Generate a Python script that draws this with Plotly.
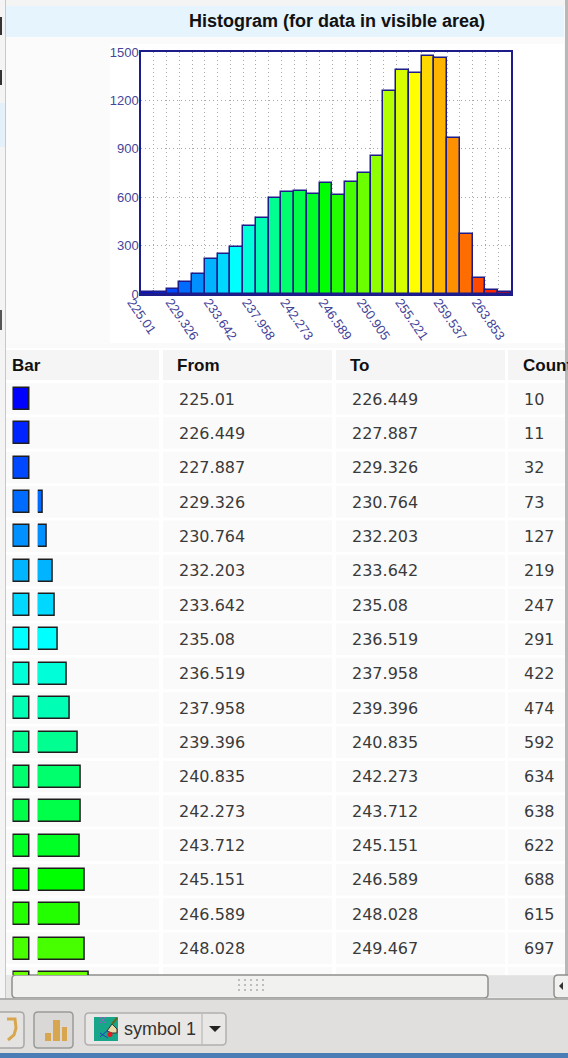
import plotly.graph_objects as go

W, H = 568, 1058

# ---------- data ----------
bin_start = 225.01
bin_width = 1.4385
hist_counts = [10, 11, 32, 73, 127, 219, 247, 291, 422, 474, 592, 634, 638, 622, 688,
               615, 697, 750, 855, 1260, 1390, 1370, 1478, 1460, 965, 370, 100, 25, 15]
bin_colors = ["#0000ff", "#0024ff", "#0048ff", "#006cff", "#0090ff", "#00b4ff", "#00d8ff", "#00ffff",
              "#00ffd8", "#00ffb4", "#00ff90", "#00ff6c", "#00ff48", "#00ff24", "#00ff00", "#24ff00",
              "#48ff00", "#6cff00", "#90ff00", "#b4ff00", "#d8ff00", "#ffff00", "#ffd800", "#ffb400",
              "#ff9000", "#ff6c00", "#ff4800", "#ff2400", "#ff0000"]
bin_centers = [225.73, 227.17, 228.61, 230.05, 231.48, 232.92, 234.36, 235.80, 237.24, 238.68,
               240.12, 241.55, 242.99, 244.43, 245.87, 247.31, 248.75, 250.19, 251.62, 253.06,
               254.50, 255.94, 257.38, 258.82, 260.26, 261.69, 263.13, 264.57, 266.01]
tick_values = [225.01, 229.326, 233.642, 237.958, 242.273, 246.589, 250.905, 255.221, 259.537, 263.853]
tick_labels = ["225.01", "229.326", "233.642", "237.958", "242.273", "246.589", "250.905", "255.221",
               "259.537", "263.853"]
y_ticks = [0, 300, 600, 900, 1200, 1500]

headers = ["Bar", "From", "To", "Count"]
row_from = ["225.01", "226.449", "227.887", "229.326", "230.764", "232.203", "233.642", "235.08", "236.519",
            "237.958", "239.396", "240.835", "242.273", "243.712", "245.151", "246.589", "248.028"]
row_to = ["226.449", "227.887", "229.326", "230.764", "232.203", "233.642", "235.08", "236.519", "237.958",
          "239.396", "240.835", "242.273", "243.712", "245.151", "246.589", "248.028", "249.467"]
row_count = ["10", "11", "32", "73", "127", "219", "247", "291", "422", "474", "592", "634", "638", "622",
             "688", "615", "697"]
# rows 0-17 of the table; the last one is almost hidden by the scrollbar
row_bars = [None, None, None, 73, 127, 219, 247, 291, 422, 474, 592, 634, 638, 622, 688, 615, 697, 750]
row_swatch = [1] * 18

ROW0, PITCH = 399.0, 34.35


def X(p):
    return p / W


def Y(p):
    return 1 - p / H


shapes = []


def rect(x0, y0, x1, y1, fill, line=None, lw=1, r=False):
    if r:
        rad = 4
        path = (f"M{X(x0+rad)},{Y(y0)} L{X(x1-rad)},{Y(y0)} Q{X(x1)},{Y(y0)} {X(x1)},{Y(y0+rad)} "
                f"L{X(x1)},{Y(y1-rad)} Q{X(x1)},{Y(y1)} {X(x1-rad)},{Y(y1)} L{X(x0+rad)},{Y(y1)} "
                f"Q{X(x0)},{Y(y1)} {X(x0)},{Y(y1-rad)} L{X(x0)},{Y(y0+rad)} Q{X(x0)},{Y(y0)} {X(x0+rad)},{Y(y0)} Z")
        shapes.append(dict(type="path", path=path, xref="paper", yref="paper", fillcolor=fill,
                           line=dict(color=line or fill, width=lw), layer="below"))
    else:
        shapes.append(dict(type="rect", xref="paper", yref="paper", x0=X(x0), x1=X(x1), y0=Y(y0), y1=Y(y1),
                           fillcolor=fill, line=dict(color=line or fill, width=lw if line else 0), layer="below"))


def poly(points, fill=None, line=None, lw=1):
    path = "M" + " L".join(f"{X(a)},{Y(b)}" for a, b in points)
    if fill:
        path += " Z"
    shapes.append(dict(type="path", xref="paper", yref="paper", layer="below", path=path,
                       fillcolor=fill or "rgba(0,0,0,0)",
                       line=dict(color=line or "rgba(0,0,0,0)", width=lw if line else 0)))


# ---------- window furniture ----------
rect(0, 0, 568, 1058, "#fafafa")
rect(0, 0, 5, 1000, "#f4f4f4")
rect(0, 17, 2, 35, "#333333")
rect(0, 70, 2, 85, "#333333")
rect(0, 103, 5, 147, "#e4f1fb")
rect(0, 310, 2, 330, "#555555")
rect(5, 0, 6, 1000, "#c8c8c8")
rect(6, 0, 565, 6, "#f4f4f4")
rect(565, 0, 568, 1000, "#b8b8b8")
rect(6, 6, 564, 37, "#e6f4fd")
rect(6, 37, 564, 344, "#fbfbfb")
rect(110, 44, 564, 343, "#ffffff")

# table cells
rect(6, 348, 565, 975, "#ffffff")
cols = [(6, 159), (163, 332), (336, 505), (508, 565)]
for c0, c1 in cols:
    rect(c0, 350, c1, 380, "#f5f5f5")
    for i in range(18):
        top = ROW0 - 16 + PITCH * i
        rect(c0, top, c1, min(top + 31.5, 975), "#fafafa")

# scrollbar and toolbar
rect(6, 975, 565, 998, "#e8e8e6")
rect(488, 976, 553, 997, "#e2e2e2")
rect(12, 975, 488, 998, "#f1f1ef", "#8f8f8d", 1.5, True)
for dx in range(5):
    for dy in range(3):
        rect(238 + 6 * dx, 979 + 5 * dy, 240 + 6 * dx, 981 + 5 * dy, "#bdbdbd")
rect(554, 975, 575, 998, "#f1f1ef", "#8f8f8d", 1.5, True)
poly([(563, 982), (563, 990), (559, 986)], fill="#333333")
rect(0, 998, 568, 1053, "#e0dfdd")
rect(0, 998, 568, 1000, "#b0b0ae")
rect(-8, 1012, 24, 1048, "#e4e3e1", "#a8a8a6", 1.5, True)
poly([(7, 1019), (15, 1019), (16, 1028), (14, 1035), (8, 1040)], line="#d8a64e", lw=3)
rect(34, 1012, 73, 1048, "#d9d8d6", "#9a9a98", 1.5, True)
for bx0, bx1, by in [(45, 51, 1033), (53, 60, 1020), (62, 67, 1027)]:
    rect(bx0, by, bx1, 1041, "#d8a64e")
rect(85, 1013, 226, 1045, "#e8e7e5", "#b0b0ae", 1.5, True)
rect(201.5, 1014, 202.5, 1044, "#b0b0ae")
rect(94, 1017, 118, 1041, "#17a689")
poly([(100, 1033), (108, 1038)], line="#2040c0", lw=1)
poly([(108, 1030), (100, 1037)], line="#2040c0", lw=1)
poly([(100, 1017), (105, 1023)], line="#b050d0", lw=1)
poly([(105, 1017), (100, 1023)], line="#b050d0", lw=1)
poly([(107, 1031), (112, 1024), (117, 1029), (117, 1033), (112, 1033)], fill="#e8d9a8", line="#333333", lw=1)
poly([(112, 1024), (117, 1018)], line="#5a6a20", lw=2)
shapes.append(dict(type="circle", xref="paper", yref="paper", layer="below", fillcolor="#e81820",
                   line=dict(width=0), x0=X(107.5), x1=X(112.5), y0=Y(1037), y1=Y(1032)))
poly([(209, 1026), (221, 1026), (215, 1032)], fill="#222222")
rect(0, 1053, 568, 1058, "#4a7db5")

fig = go.Figure()

# ---------- histogram ----------
FRAME = "#1c1c8a"
INK = "#45459a"
fig.add_trace(go.Bar(x=bin_centers, y=hist_counts, width=bin_width, marker=dict(color=bin_colors,
                     line=dict(color=FRAME, width=1.5)), xaxis="x", yaxis="y", showlegend=False))

# ---------- table bars ----------
row_index = list(range(18))
fig.add_trace(go.Bar(y=row_index, x=row_bars, orientation="h", width=0.64,
                     marker=dict(color=bin_colors[:18], line=dict(color="#1e1e1e", width=1.5)),
                     xaxis="x2", yaxis="y2", showlegend=False))
fig.add_trace(go.Bar(y=row_index, x=row_swatch, orientation="h", width=0.64,
                     marker=dict(color=bin_colors[:18], line=dict(color="#1e1e1e", width=1.5)),
                     xaxis="x3", yaxis="y2", showlegend=False))

# ---------- text ----------
ann = [dict(text="<b>Histogram (for data in visible area)</b>", x=X(337), y=Y(21), xref="paper", yref="paper",
            yanchor="middle", showarrow=False, font=dict(family="Liberation Sans", size=18, color="#111111"))]
for txt, px in zip(headers, [10, 175, 348, 521]):
    ann.append(dict(text=f"<b>{txt}</b>", x=X(px), y=Y(365), xref="paper", yref="paper", xanchor="left",
                    yanchor="middle", showarrow=False,
                    font=dict(family="Liberation Sans", size=17, color="#111111")))
for values, px in [(row_from, 177), (row_to, 350), (row_count, 522)]:
    for i, txt in enumerate(values):
        ann.append(dict(text=txt, x=X(px), y=i, xref="paper", yref="y2", xanchor="left", yanchor="middle",
                        showarrow=False, font=dict(family="DejaVu Sans", size=16, color="#3a3a3a")))
ann.append(dict(text="symbol 1", x=X(122), y=Y(1029), xref="paper", yref="paper", xanchor="left", yanchor="middle",
                showarrow=False, font=dict(family="Liberation Sans", size=18, color="#333333")))

GRID = "#a8a8a8"
fig.update_layout(
    width=W, height=H, margin=dict(l=0, r=0, t=0, b=0, autoexpand=False), paper_bgcolor="#fafafa",
    plot_bgcolor="rgba(0,0,0,0)", bargap=0, barmode="overlay", shapes=shapes, annotations=ann,
    xaxis=dict(domain=[X(141), X(511)], range=[bin_start, bin_start + 29 * bin_width], tickvals=tick_values,
               ticktext=tick_labels, tickangle=55, ticklen=0, showgrid=True, gridcolor=GRID,
               griddash="1px,3px", gridwidth=1, showline=True, linecolor=FRAME, linewidth=1.5, mirror=True,
               zeroline=False, anchor="y", ticklabelshift=-9, ticklabelstandoff=-6,
               tickfont=dict(family="Liberation Sans", size=13, color=INK),
               minor=dict(tick0=bin_start, dtick=bin_width, showgrid=True, gridcolor=GRID, griddash="1px,3px",
                          gridwidth=1, ticklen=0)),
    yaxis=dict(domain=[Y(294), Y(52)], range=[0, 1500], tickvals=y_ticks, ticklen=0, showgrid=True,
               gridcolor=GRID, griddash="1px,3px", gridwidth=1, showline=True, linecolor=FRAME, linewidth=1.5,
               mirror=True, zeroline=False, anchor="x", ticklabelstandoff=-2,
               tickfont=dict(family="Liberation Sans", size=13, color=INK)),
    xaxis2=dict(domain=[X(37.8), X(161)], range=[0, (161 - 37.8) / 0.068], visible=False, anchor="y2"),
    xaxis3=dict(domain=[X(12.5), X(30.5)], range=[-1 / 16, 17 / 16], visible=False, anchor="y2"),
    yaxis2=dict(domain=[Y(975), Y(381)], range=[(975 - ROW0) / PITCH, (381 - ROW0) / PITCH], visible=False,
                anchor="x2"),
)

fig.write_html("out.html", config={"displayModeBar": False},
               post_script="document.body.style.margin='0';document.body.style.overflow='hidden';")
